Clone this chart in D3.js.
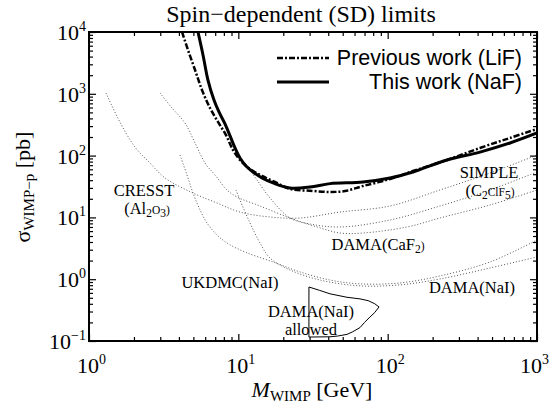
<!DOCTYPE html>
<html><head><meta charset="utf-8">
<script src="https://cdn.jsdelivr.net/npm/d3@7"></script>
<style>body{margin:0;background:#fff}svg{display:block}</style>
</head><body><svg id="c" width="550" height="405"></svg>
<script>
// ---- data: [M_WIMP (GeV), sigma (pb)] ----
const thisWorkNaF = [[5.37,10000],[5.80,4246],[6.26,1671],[6.87,794],[7.42,508],[8.14,325],[8.80,208],[9.50,133],[10.26,91.5],[11.26,67.9],[12.54,54.3],[14.41,43.4],[17.07,36.1],[22.2,29.9],[30.2,31.0],[41.1,35.2],[68.4,37.4],[103.7,43.4],[147.8,54.3],[249.7,84.9],[415,114],[660,160],[1000,232]];
const previousLiF = [[4.20,10000],[4.60,5117],[5.13,2427],[5.71,1152],[6.46,589],[7.31,350],[8.27,215],[9.21,123],[10.26,84.9],[11.97,60.7],[14.41,46.8],[17.6,37.4],[22.2,28.8],[30.2,27.0],[41.1,25.8],[51.8,26.7],[68.4,32.2],[103.7,41.8],[147.8,56.3],[249.7,84.9],[415,133],[660,193],[1000,270]];
const cresstAl2O3 = [[1.30,1030],[1.61,350],[2.03,138],[2.56,75.9],[3.23,43.4],[4.97,24.8],[7.20,17.1],[10.26,12.2],[16.3,10.15],[25.9,9.78],[48.0,12.2],[103.7,15.3],[224,27.8],[485,52.3],[1000,102]];
const simpleC2ClF5 = [[11.97,58.5],[13.34,40.3],[16.3,20.6],[22.18,9.78],[30.2,7.82],[48.0,7.0],[103.7,9.08],[224,15.3],[485,27.8],[1000,54.3]];
const damaCaF2 = [[2.99,1030],[3.60,589],[4.39,337],[5.13,160],[5.98,75.9],[6.98,48.5],[8.40,27.8],[9.80,21.4],[13.97,15.3],[22.18,9.78],[33.64,7.0],[48.0,5.59],[68.4,5.59],[134.8,7.0],[224,9.78],[485,15.9],[1000,27.8]];
const ukdmcNaI = [[4.07,102],[4.53,48.5],[4.97,24.8],[5.54,13.2],[6.17,8.12],[7.20,5.19],[8.40,3.85],[11.08,2.75],[17.07,1.90],[25.9,1.31],[41.1,0.97],[65.3,0.84],[120.9,0.87],[224,1.13],[485,1.90],[1000,4.31]];
const damaNaI = [[9.65,27.8],[10.26,19.1],[11.97,8.12],[13.97,3.85],[16.3,2.20],[22.18,1.41],[35.23,0.97],[65.3,0.78],[120.9,0.81],[224,1.01],[485,1.52],[1000,2.29]];
const damaAllowed = [[29.7,0.748],[35.0,0.66],[41.1,0.58],[53.4,0.51],[65.3,0.48],[74.0,0.45],[82.0,0.40],[87.5,0.355],[82.0,0.29],[76.1,0.244],[70.0,0.20],[65.3,0.165],[58.0,0.14],[53.4,0.128],[46.0,0.120],[41.1,0.117],[29.7,0.116]];
const xTickExps = [0,1,2,3];
const yTickExps = [-1,0,1,2,3,4];
const legendLabels = ["Previous work (LiF)","This work (NaF)"];
const titleText = "Spin\u2212dependent (SD) limits";

const svg = d3.select("#c");
const X0=89, X1=537, Y0=341, Y1=32;
const x = d3.scaleLog().domain([1,1000]).range([X0,X1]);
const y = d3.scaleLog().domain([0.1,1e4]).range([Y0,Y1]);

svg.append("defs").append("clipPath").attr("id","clip")
  .append("rect").attr("x",X0).attr("y",Y1).attr("width",X1-X0).attr("height",Y0-Y1);

const line = d3.line().x(d=>x(d[0])).y(d=>y(d[1])).curve(d3.curveCatmullRom.alpha(0.5));
const g = svg.append("g").attr("clip-path","url(#clip)");

[cresstAl2O3, simpleC2ClF5, damaCaF2, ukdmcNaI, damaNaI].forEach(s=>{
  g.append("path").datum(s).attr("d",line).attr("fill","none")
   .attr("stroke","#555").attr("stroke-width",1).attr("stroke-dasharray","1 2");
});
g.append("path").datum(damaAllowed)
  .attr("d", d3.line().x(d=>x(d[0])).y(d=>y(d[1])).curve(d3.curveLinearClosed))
  .attr("fill","none").attr("stroke","#000").attr("stroke-width",1);
g.append("path").datum(previousLiF).attr("d",line).attr("fill","none")
  .attr("stroke","#000").attr("stroke-width",2.5).attr("stroke-dasharray","6 2 2 2");
g.append("path").datum(thisWorkNaF).attr("d",line).attr("fill","none")
  .attr("stroke","#000").attr("stroke-width",3);

// ticks
const majX = xTickExps.map(e=>Math.pow(10,e));
const minX = []; for(let e=0;e<3;e++) for(let k=2;k<10;k++) minX.push(k*Math.pow(10,e));
const majY = yTickExps.map(e=>Math.pow(10,e));
const minY = []; for(let e=-1;e<4;e++) for(let k=2;k<10;k++) minY.push(k*Math.pow(10,e));
function ax(gen, tr, vals, size){
  const a = svg.append("g").attr("transform",tr)
    .call(gen.tickValues(vals).tickSize(-size).tickFormat(""));
  a.select(".domain").remove();
  a.selectAll("line").attr("stroke","#000").attr("stroke-width",1.2);
}
[[majX,7],[minX,4]].forEach(([v,s])=>{
  ax(d3.axisBottom(x),`translate(0,${Y0})`,v,s);
  ax(d3.axisTop(x),`translate(0,${Y1})`,v,s);
});
[[majY,7],[minY,4]].forEach(([v,s])=>{
  ax(d3.axisLeft(y),`translate(${X0},0)`,v,s);
  ax(d3.axisRight(y),`translate(${X1},0)`,v,s);
});
svg.append("rect").attr("x",X0).attr("y",Y1).attr("width",X1-X0).attr("height",Y0-Y1)
  .attr("fill","none").attr("stroke","#000").attr("stroke-width",2);

const serif = "'Liberation Serif','Times New Roman',serif";
const sans = "'Liberation Sans',Arial,sans-serif";
function pow10(sel, e){
  sel.append("tspan").text("10");
  sel.append("tspan").attr("font-size",14).attr("dy",-9).text(e<0?"\u2212"+(-e):String(e));
}
xTickExps.forEach((e,i)=>{
  const t = svg.append("text").attr("x",x(Math.pow(10,e))-(i===3?17:12)).attr("y",373)
    .attr("text-anchor","start").attr("font-family",serif).attr("font-size",22);
  pow10(t,e);
});
yTickExps.forEach(e=>{
  const t = svg.append("text").attr("x",86).attr("y",y(Math.pow(10,e))+8)
    .attr("text-anchor","end").attr("font-family",serif).attr("font-size",22);
  pow10(t,e);
});

// title
svg.append("text").attr("x",301).attr("y",22).attr("text-anchor","middle")
  .attr("font-family",serif).attr("font-size",24).text(titleText);

// axis titles
const xt = svg.append("text").attr("x",312).attr("y",397).attr("text-anchor","middle")
  .attr("font-family",serif).attr("font-size",22);
xt.append("tspan").attr("font-style","italic").text("M");
xt.append("tspan").attr("font-size",15).attr("dy",4).text("WIMP");
xt.append("tspan").attr("dy",-4).text(" [GeV]");
const yt = svg.append("text").attr("transform","translate(30,187) rotate(-90)")
  .attr("text-anchor","middle").attr("font-family",serif).attr("font-size",22);
yt.append("tspan").text("\u03c3");
yt.append("tspan").attr("font-size",15).attr("dy",4).text("WIMP\u2212p");
yt.append("tspan").attr("dy",-4).text(" [pb]");

// legend
[[previousLiF,"6 2 2 2",2.5,58],[thisWorkNaF,null,3,82]].forEach(([s,da,w,ly],i)=>{
  svg.append("line").attr("x1",277).attr("x2",329).attr("y1",ly).attr("y2",ly)
    .attr("stroke","#000").attr("stroke-width",w).attr("stroke-dasharray",da);
  svg.append("text").attr("x",522).attr("y",ly+7).attr("text-anchor","end")
    .attr("font-family",sans).attr("font-size",21.5).text(legendLabels[i]);
});

// annotations
function ann(xp,yp,parts){
  const t = svg.append("text").attr("x",xp).attr("y",yp).attr("text-anchor","middle")
    .attr("font-family",serif).attr("font-size",16.5);
  parts.forEach(p=>{
    if(typeof p==="string") t.append("tspan").text(p);
    else t.append("tspan").attr("font-size",11.5).attr("dy",p[1]).text(p[0]);
  });
}
ann(144,196,["CRESST"]);
ann(147,214,["(Al",["2",3],["O",-3],["3",3],[")",-3]]);
ann(230,288,["UKDMC(NaI)"]);
ann(378,250,["DAMA(CaF",["2",3],[")",-3]]);
ann(472,293,["DAMA(NaI)"]);
ann(311,317,["DAMA(NaI)"]);
ann(311,335,["allowed"]);
ann(489,178,["SIMPLE"]);
ann(490,196,["(C",["2",3],["ClF",-3],["5",3],[")",-3]]);
</script></body></html>
